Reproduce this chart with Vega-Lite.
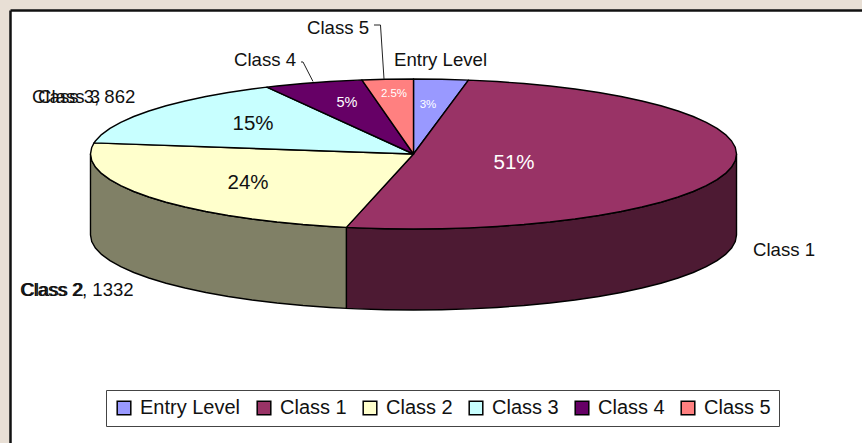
{"$schema":"https://vega.github.io/schema/vega-lite/v6.json","width":852,"height":433,"autosize":"none","padding":{"left":10,"top":10,"right":0,"bottom":0},"background":"#e8dfd5","view":{"fill":"#ffffff","stroke":null},"config":{"text":{"font":"Liberation Sans"},"legend":{"labelFont":"Liberation Sans"}},"datasets":{"slices":[{"slice":"Entry Level","p":0,"x":0,"y":0},{"slice":"Entry Level","p":1,"x":0,"y":1},{"slice":"Entry Level","p":2,"x":0.0872,"y":0.9962},{"slice":"Entry Level","p":3,"x":0.1702,"y":0.9854},{"slice":"Class 1","p":0,"x":0,"y":0},{"slice":"Class 1","p":1,"x":0.1702,"y":0.9854},{"slice":"Class 1","p":2,"x":0.2588,"y":0.9659},{"slice":"Class 1","p":3,"x":0.342,"y":0.9397},{"slice":"Class 1","p":4,"x":0.4226,"y":0.9063},{"slice":"Class 1","p":5,"x":0.5,"y":0.866},{"slice":"Class 1","p":6,"x":0.5736,"y":0.8192},{"slice":"Class 1","p":7,"x":0.6428,"y":0.766},{"slice":"Class 1","p":8,"x":0.7071,"y":0.7071},{"slice":"Class 1","p":9,"x":0.766,"y":0.6428},{"slice":"Class 1","p":10,"x":0.8192,"y":0.5736},{"slice":"Class 1","p":11,"x":0.866,"y":0.5},{"slice":"Class 1","p":12,"x":0.9063,"y":0.4226},{"slice":"Class 1","p":13,"x":0.9397,"y":0.342},{"slice":"Class 1","p":14,"x":0.9659,"y":0.2588},{"slice":"Class 1","p":15,"x":0.9848,"y":0.1736},{"slice":"Class 1","p":16,"x":0.9962,"y":0.0872},{"slice":"Class 1","p":17,"x":1,"y":0},{"slice":"Class 1","p":18,"x":0.9962,"y":-0.0872},{"slice":"Class 1","p":19,"x":0.9848,"y":-0.1736},{"slice":"Class 1","p":20,"x":0.9659,"y":-0.2588},{"slice":"Class 1","p":21,"x":0.9397,"y":-0.342},{"slice":"Class 1","p":22,"x":0.9063,"y":-0.4226},{"slice":"Class 1","p":23,"x":0.866,"y":-0.5},{"slice":"Class 1","p":24,"x":0.8192,"y":-0.5736},{"slice":"Class 1","p":25,"x":0.766,"y":-0.6428},{"slice":"Class 1","p":26,"x":0.7071,"y":-0.7071},{"slice":"Class 1","p":27,"x":0.6428,"y":-0.766},{"slice":"Class 1","p":28,"x":0.5736,"y":-0.8192},{"slice":"Class 1","p":29,"x":0.5,"y":-0.866},{"slice":"Class 1","p":30,"x":0.4226,"y":-0.9063},{"slice":"Class 1","p":31,"x":0.342,"y":-0.9397},{"slice":"Class 1","p":32,"x":0.2588,"y":-0.9659},{"slice":"Class 1","p":33,"x":0.1736,"y":-0.9848},{"slice":"Class 1","p":34,"x":0.0872,"y":-0.9962},{"slice":"Class 1","p":35,"x":0,"y":-1},{"slice":"Class 1","p":36,"x":-0.0872,"y":-0.9962},{"slice":"Class 1","p":37,"x":-0.1736,"y":-0.9848},{"slice":"Class 1","p":38,"x":-0.2079,"y":-0.9781},{"slice":"Class 2","p":0,"x":0,"y":0},{"slice":"Class 2","p":1,"x":-0.2079,"y":-0.9781},{"slice":"Class 2","p":2,"x":-0.2588,"y":-0.9659},{"slice":"Class 2","p":3,"x":-0.342,"y":-0.9397},{"slice":"Class 2","p":4,"x":-0.4226,"y":-0.9063},{"slice":"Class 2","p":5,"x":-0.5,"y":-0.866},{"slice":"Class 2","p":6,"x":-0.5736,"y":-0.8192},{"slice":"Class 2","p":7,"x":-0.6428,"y":-0.766},{"slice":"Class 2","p":8,"x":-0.7071,"y":-0.7071},{"slice":"Class 2","p":9,"x":-0.766,"y":-0.6428},{"slice":"Class 2","p":10,"x":-0.8192,"y":-0.5736},{"slice":"Class 2","p":11,"x":-0.866,"y":-0.5},{"slice":"Class 2","p":12,"x":-0.9063,"y":-0.4226},{"slice":"Class 2","p":13,"x":-0.9397,"y":-0.342},{"slice":"Class 2","p":14,"x":-0.9659,"y":-0.2588},{"slice":"Class 2","p":15,"x":-0.9848,"y":-0.1736},{"slice":"Class 2","p":16,"x":-0.9962,"y":-0.0872},{"slice":"Class 2","p":17,"x":-1,"y":0},{"slice":"Class 2","p":18,"x":-0.9962,"y":0.0872},{"slice":"Class 2","p":19,"x":-0.989,"y":0.1478},{"slice":"Class 3","p":0,"x":0,"y":0},{"slice":"Class 3","p":1,"x":-0.989,"y":0.1478},{"slice":"Class 3","p":2,"x":-0.9848,"y":0.1736},{"slice":"Class 3","p":3,"x":-0.9659,"y":0.2588},{"slice":"Class 3","p":4,"x":-0.9397,"y":0.342},{"slice":"Class 3","p":5,"x":-0.9063,"y":0.4226},{"slice":"Class 3","p":6,"x":-0.866,"y":0.5},{"slice":"Class 3","p":7,"x":-0.8192,"y":0.5736},{"slice":"Class 3","p":8,"x":-0.766,"y":0.6428},{"slice":"Class 3","p":9,"x":-0.7071,"y":0.7071},{"slice":"Class 3","p":10,"x":-0.6428,"y":0.766},{"slice":"Class 3","p":11,"x":-0.5736,"y":0.8192},{"slice":"Class 3","p":12,"x":-0.5,"y":0.866},{"slice":"Class 3","p":13,"x":-0.454,"y":0.891},{"slice":"Class 4","p":0,"x":0,"y":0},{"slice":"Class 4","p":1,"x":-0.454,"y":0.891},{"slice":"Class 4","p":2,"x":-0.4226,"y":0.9063},{"slice":"Class 4","p":3,"x":-0.342,"y":0.9397},{"slice":"Class 4","p":4,"x":-0.2588,"y":0.9659},{"slice":"Class 4","p":5,"x":-0.1736,"y":0.9848},{"slice":"Class 4","p":6,"x":-0.1599,"y":0.9871},{"slice":"Class 5","p":0,"x":0,"y":0},{"slice":"Class 5","p":1,"x":-0.1599,"y":0.9871},{"slice":"Class 5","p":2,"x":-0.0872,"y":0.9962},{"slice":"Class 5","p":3,"x":0,"y":1}],"wall1":[{"x":1,"y":0,"y2":-1.08},{"x":0.9962,"y":-0.0872,"y2":-1.1672},{"x":0.9848,"y":-0.1736,"y2":-1.2536},{"x":0.9659,"y":-0.2588,"y2":-1.3388},{"x":0.9397,"y":-0.342,"y2":-1.422},{"x":0.9063,"y":-0.4226,"y2":-1.5026},{"x":0.866,"y":-0.5,"y2":-1.58},{"x":0.8192,"y":-0.5736,"y2":-1.6536},{"x":0.766,"y":-0.6428,"y2":-1.7228},{"x":0.7071,"y":-0.7071,"y2":-1.7871},{"x":0.6428,"y":-0.766,"y2":-1.846},{"x":0.5736,"y":-0.8192,"y2":-1.8992},{"x":0.5,"y":-0.866,"y2":-1.946},{"x":0.4226,"y":-0.9063,"y2":-1.9863},{"x":0.342,"y":-0.9397,"y2":-2.0197},{"x":0.2588,"y":-0.9659,"y2":-2.0459},{"x":0.1736,"y":-0.9848,"y2":-2.0648},{"x":0.0872,"y":-0.9962,"y2":-2.0762},{"x":0,"y":-1,"y2":-2.08},{"x":-0.0872,"y":-0.9962,"y2":-2.0762},{"x":-0.1736,"y":-0.9848,"y2":-2.0648},{"x":-0.2079,"y":-0.9781,"y2":-2.0581}],"wall2":[{"x":-0.2079,"y":-0.9781,"y2":-2.0581},{"x":-0.2588,"y":-0.9659,"y2":-2.0459},{"x":-0.342,"y":-0.9397,"y2":-2.0197},{"x":-0.4226,"y":-0.9063,"y2":-1.9863},{"x":-0.5,"y":-0.866,"y2":-1.946},{"x":-0.5736,"y":-0.8192,"y2":-1.8992},{"x":-0.6428,"y":-0.766,"y2":-1.846},{"x":-0.7071,"y":-0.7071,"y2":-1.7871},{"x":-0.766,"y":-0.6428,"y2":-1.7228},{"x":-0.8192,"y":-0.5736,"y2":-1.6536},{"x":-0.866,"y":-0.5,"y2":-1.58},{"x":-0.9063,"y":-0.4226,"y2":-1.5026},{"x":-0.9397,"y":-0.342,"y2":-1.422},{"x":-0.9659,"y":-0.2588,"y2":-1.3388},{"x":-0.9848,"y":-0.1736,"y2":-1.2536},{"x":-0.9962,"y":-0.0872,"y2":-1.1672},{"x":-1,"y":0,"y2":-1.08}],"leaders":[{"who":"Class 5","p":0,"x":-0.1223,"y":1.72},{"who":"Class 5","p":1,"x":-0.1022,"y":1.72},{"who":"Class 5","p":2,"x":-0.0913,"y":1},{"who":"Class 4","p":0,"x":-0.3483,"y":1.2267},{"who":"Class 4","p":1,"x":-0.3421,"y":1.2267},{"who":"Class 4","p":2,"x":-0.3111,"y":0.9667}]},"encoding":{"x":{"field":"x","type":"quantitative","scale":{"domain":[-1.2492,1.3885],"nice":false,"zero":false},"axis":{"orient":"top","title":null,"ticks":false,"labels":false,"grid":false,"domainColor":"#111111","domainWidth":2.5}},"y":{"field":"y","type":"quantitative","scale":{"domain":[-3.8533,1.92],"nice":false,"zero":false},"axis":{"orient":"left","title":null,"ticks":false,"labels":false,"grid":false,"domainColor":"#111111","domainWidth":2.5}}},"layer":[{"data":{"name":"wall1"},"mark":{"type":"area","orient":"vertical","fill":"#4d1a33","stroke":"#000000","strokeWidth":1.4},"encoding":{"y2":{"field":"y2"}}},{"data":{"name":"wall2"},"mark":{"type":"area","orient":"vertical","fill":"#808066","stroke":"#000000","strokeWidth":1.4},"encoding":{"y2":{"field":"y2"}}},{"data":{"name":"slices"},"mark":{"type":"line","interpolate":"linear-closed","stroke":"#000000","strokeWidth":1.4,"strokeJoin":"round"},"encoding":{"order":{"field":"p","type":"quantitative"},"fill":{"field":"slice","type":"nominal","scale":{"domain":["Entry Level","Class 1","Class 2","Class 3","Class 4","Class 5"],"range":["#9999ff","#993366","#ffffcc","#c8ffff","#660066","#ff8080"]},"legend":{"title":null,"orient":"none","legendX":96,"legendY":380,"direction":"horizontal","columns":6,"symbolType":"square","symbolSize":185,"symbolStrokeColor":"#000000","symbolStrokeWidth":1.5,"labelFontSize":20,"labelColor":"#111111","labelOffset":6,"columnPadding":13,"padding":8,"fillColor":"#ffffff","strokeColor":"#444444","labelLimit":200}}}},{"data":{"name":"leaders"},"mark":{"type":"line","stroke":"#222222","strokeWidth":1},"encoding":{"detail":{"field":"who"},"order":{"field":"p","type":"quantitative"}}},{"data":{"values":[{"label":"Class 5","x":-0.3297,"y":1.6},{"label":"Class 4","x":-0.5557,"y":1.1733},{"label":"Entry Level","x":-0.0604,"y":1.1733},{"label":"Class 1","x":1.0511,"y":-1.36},{"label":"Class 3, 862","x":-1.1811,"y":0.68},{"label":"Class 3","x":-1.1625,"y":0.68},{"label":"Class 2, 1332","x":-1.2183,"y":-1.8933},{"label":"Class 2","x":-1.2136,"y":-1.8933}]},"mark":{"type":"text","align":"left","baseline":"alphabetic","fontSize":18.6,"fill":"#111111"},"encoding":{"text":{"field":"label"}}},{"data":{"values":[{"label":"24%","x":-0.5124,"y":-0.3867},{"label":"15%","x":-0.4969,"y":0.4}]},"mark":{"type":"text","align":"center","baseline":"middle","fontSize":20.5,"fill":"#111111"},"encoding":{"text":{"field":"label"}}},{"data":{"values":[{"label":"51%","x":0.3111,"y":-0.12}]},"mark":{"type":"text","align":"center","baseline":"middle","fontSize":20.5,"fill":"#ffffff"},"encoding":{"text":{"field":"label"}}},{"data":{"values":[{"label":"5%","x":-0.2059,"y":0.68}]},"mark":{"type":"text","align":"center","baseline":"middle","fontSize":14.5,"fill":"#ffffff"},"encoding":{"text":{"field":"label"}}},{"data":{"values":[{"label":"2.5%","x":-0.0604,"y":0.8},{"label":"3%","x":0.0449,"y":0.6533}]},"mark":{"type":"text","align":"center","baseline":"middle","fontSize":11.5,"fill":"#ffffff"},"encoding":{"text":{"field":"label"}}}]}
